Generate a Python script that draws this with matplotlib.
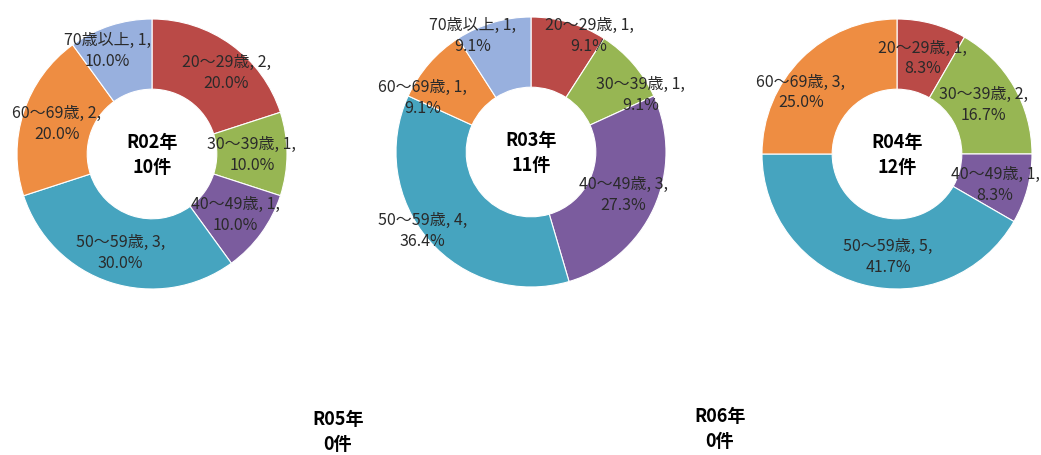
import numpy as np
import matplotlib
matplotlib.use("Agg")
import matplotlib.pyplot as plt

plt.rcParams['font.family'] = ['Noto Sans CJK JP', 'DejaVu Sans']

categories = ["20～29歳", "30～39歳", "40～49歳", "50～59歳", "60～69歳", "70歳以上"]
years = ["R02年", "R03年", "R04年", "R05年", "R06年"]
r02 = [2, 1, 1, 3, 2, 1]
r03 = [1, 1, 3, 4, 1, 1]
r04 = [1, 2, 1, 5, 3, 0]
r05 = [0, 0, 0, 0, 0, 0]
r06 = [0, 0, 0, 0, 0, 0]
series = [r02, r03, r04, r05, r06]

colors = ["#BA4A47", "#97B653", "#7B5C9E", "#46A4BF", "#EE8D42", "#98B0DE"]

W, H = 1041, 456
fig = plt.figure(figsize=(W / 100, H / 100), dpi=100)

# layout: chart centers in pixels (x, y from top), radius, label placement
centers = [(152, 155), (531, 153), (897, 155), (338, 432), (720, 429)]
R = 135
label_radius = [
    [0.82, 0.74, 0.76, 0.76, 0.74, 0.84],
    [0.97, 0.92, 0.75, 0.99, 0.90, 0.97],
    [0.74, 0.74, 0.76, 0.76, 0.85, 0.74],
    [0.74] * 6,
    [0.74] * 6,
]
label_angle_shift = [
    [-6, 0, 0, 0, 0, 5],
    [-10, -13, 0, -5, 14, 10],
    [0, 0, -2, 10, 12, 0],
    [0] * 6,
    [0] * 6,
]

for k, (year, vals, (cx, cy)) in enumerate(zip(years, series, centers)):
    ax = fig.add_axes([(cx - R) / W, 1 - (cy + R) / H, 2 * R / W, 2 * R / H])
    total = sum(vals)
    if total > 0:
        idx = [i for i, v in enumerate(vals) if v > 0]
        v_nz = [vals[i] for i in idx]
        c_nz = [colors[i] for i in idx]
        wedges, _ = ax.pie(v_nz, colors=c_nz, startangle=90, counterclock=False,
                           radius=1, wedgeprops=dict(width=0.52, edgecolor='white', linewidth=0.8))
        for w, i in zip(wedges, idx):
            ang = np.deg2rad((w.theta1 + w.theta2) / 2 + label_angle_shift[k][i])
            rr = label_radius[k][i]
            x, y = rr * np.cos(ang), rr * np.sin(ang)
            txt = f"{categories[i]}, {vals[i]},\n{vals[i] / total * 100:.1f}%"
            t = ax.text(x, y, txt, ha='center', va='center', multialignment='center',
                        fontsize=11.5, color='#2a2a2a', linespacing=1.3)
            t.set_clip_on(False)
    ax.set_xlim(-1, 1)
    ax.set_ylim(-1, 1)
    ax.set_aspect('equal')
    ax.axis('off')
    ax.text(0, 0, f"{year}\n{total}件", ha='center', va='center', multialignment='center',
            fontsize=13, fontweight='bold', color='black', linespacing=1.35)

fig.savefig("out.png", dpi=100)
